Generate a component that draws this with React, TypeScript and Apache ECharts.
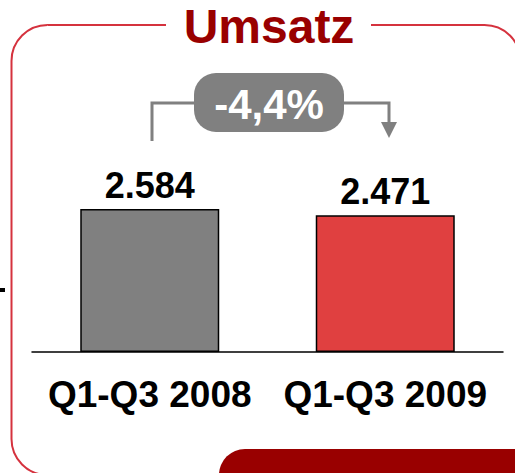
import React, { useEffect, useRef } from "react";
import * as echarts from "echarts";

const categories = ["Q1-Q3 2008", "Q1-Q3 2009"];
const values = [2584, 2471];
const barColors = ["#808080", "#e04040"];
const titleText = "Umsatz";

const FONT = "'Liberation Sans', Arial, sans-serif";

function fmt(v: number) {
  return v.toLocaleString("de-DE");
}

export default function App() {
  const ref = useRef<HTMLDivElement>(null);
  useEffect(() => {
    document.body.style.margin = "0";
    const chart = echarts.init(ref.current!, null, { renderer: "svg" });
    const change = ((values[1] - values[0]) / values[0]) * 100;
    const changeText = (change > 0 ? "+" : "") + change.toFixed(1).replace(".", ",") + "%";
    chart.setOption({
      animation: false,
      backgroundColor: "#ffffff",
      grid: { left: 32, right: 12, top: 186, bottom: 121 },
      xAxis: {
        type: "category",
        data: categories,
        axisTick: { show: false },
        axisLine: { lineStyle: { color: "#000", width: 1.5 } },
        axisLabel: {
          color: "#000",
          fontSize: 37,
          fontWeight: "bold",
          fontFamily: FONT,
          margin: 24,
          interval: 0,
          hideOverlap: false,
        },
      },
      yAxis: {
        type: "value",
        min: 0,
        max: 3000,
        show: false,
        splitLine: { show: false },
      },
      series: [
        {
          type: "bar",
          barWidth: 139,
          data: values.map((v, i) => ({
            value: v,
            itemStyle: { color: barColors[i], borderColor: "#000", borderWidth: 1.5 },
          })),
          label: {
            show: true,
            position: "top",
            distance: 6,
            color: "#000",
            fontSize: 36,
            fontWeight: "bold",
            fontFamily: FONT,
            formatter: (p: any) => fmt(p.value),
          },
        },
      ],
      graphic: [
        {
          type: "rect",
          shape: { x: 11.5, y: 25, width: 509, height: 450, r: 36 },
          style: { fill: "none", stroke: "#d5323e", lineWidth: 2 },
          z: 1,
        },
        {
          type: "rect",
          shape: { x: 166, y: 12, width: 205, height: 26 },
          style: { fill: "#fff" },
          z: 2,
        },
        {
          type: "text",
          x: 269,
          y: 26,
          style: {
            text: titleText,
            fill: "#990000",
            font: `bold 48px ${FONT}`,
            align: "center",
            verticalAlign: "middle",
          },
          z: 3,
        },
        {
          type: "rect",
          shape: { x: 219, y: 449, width: 320, height: 60, r: [26, 0, 0, 0] },
          style: { fill: "#990000" },
          z: 3,
        },
        {
          type: "rect",
          shape: { x: 0, y: 288, width: 5, height: 4 },
          style: { fill: "#000" },
          z: 3,
        },
        {
          type: "polyline",
          shape: { points: [[152, 141], [152, 103], [194, 103]] },
          style: { stroke: "#808080", lineWidth: 3, fill: "none" },
          z: 3,
        },
        {
          type: "polyline",
          shape: { points: [[344, 103], [389, 103], [389, 124]] },
          style: { stroke: "#808080", lineWidth: 3, fill: "none" },
          z: 3,
        },
        {
          type: "polygon",
          shape: { points: [[381, 122], [397, 122], [389, 138]] },
          style: { fill: "#808080" },
          z: 3,
        },
        {
          type: "rect",
          shape: { x: 194, y: 73, width: 150, height: 59, r: 22 },
          style: { fill: "#808080" },
          z: 4,
        },
        {
          type: "text",
          x: 269,
          y: 104,
          style: {
            text: changeText,
            fill: "#fff",
            font: `bold 42px ${FONT}`,
            align: "center",
            verticalAlign: "middle",
          },
          z: 5,
        },
      ],
    });
    return () => chart.dispose();
  }, []);
  return (
    <div
      ref={ref}
      style={{ position: "absolute", left: 0, top: 0, width: 515, height: 473 }}
    />
  );
}
